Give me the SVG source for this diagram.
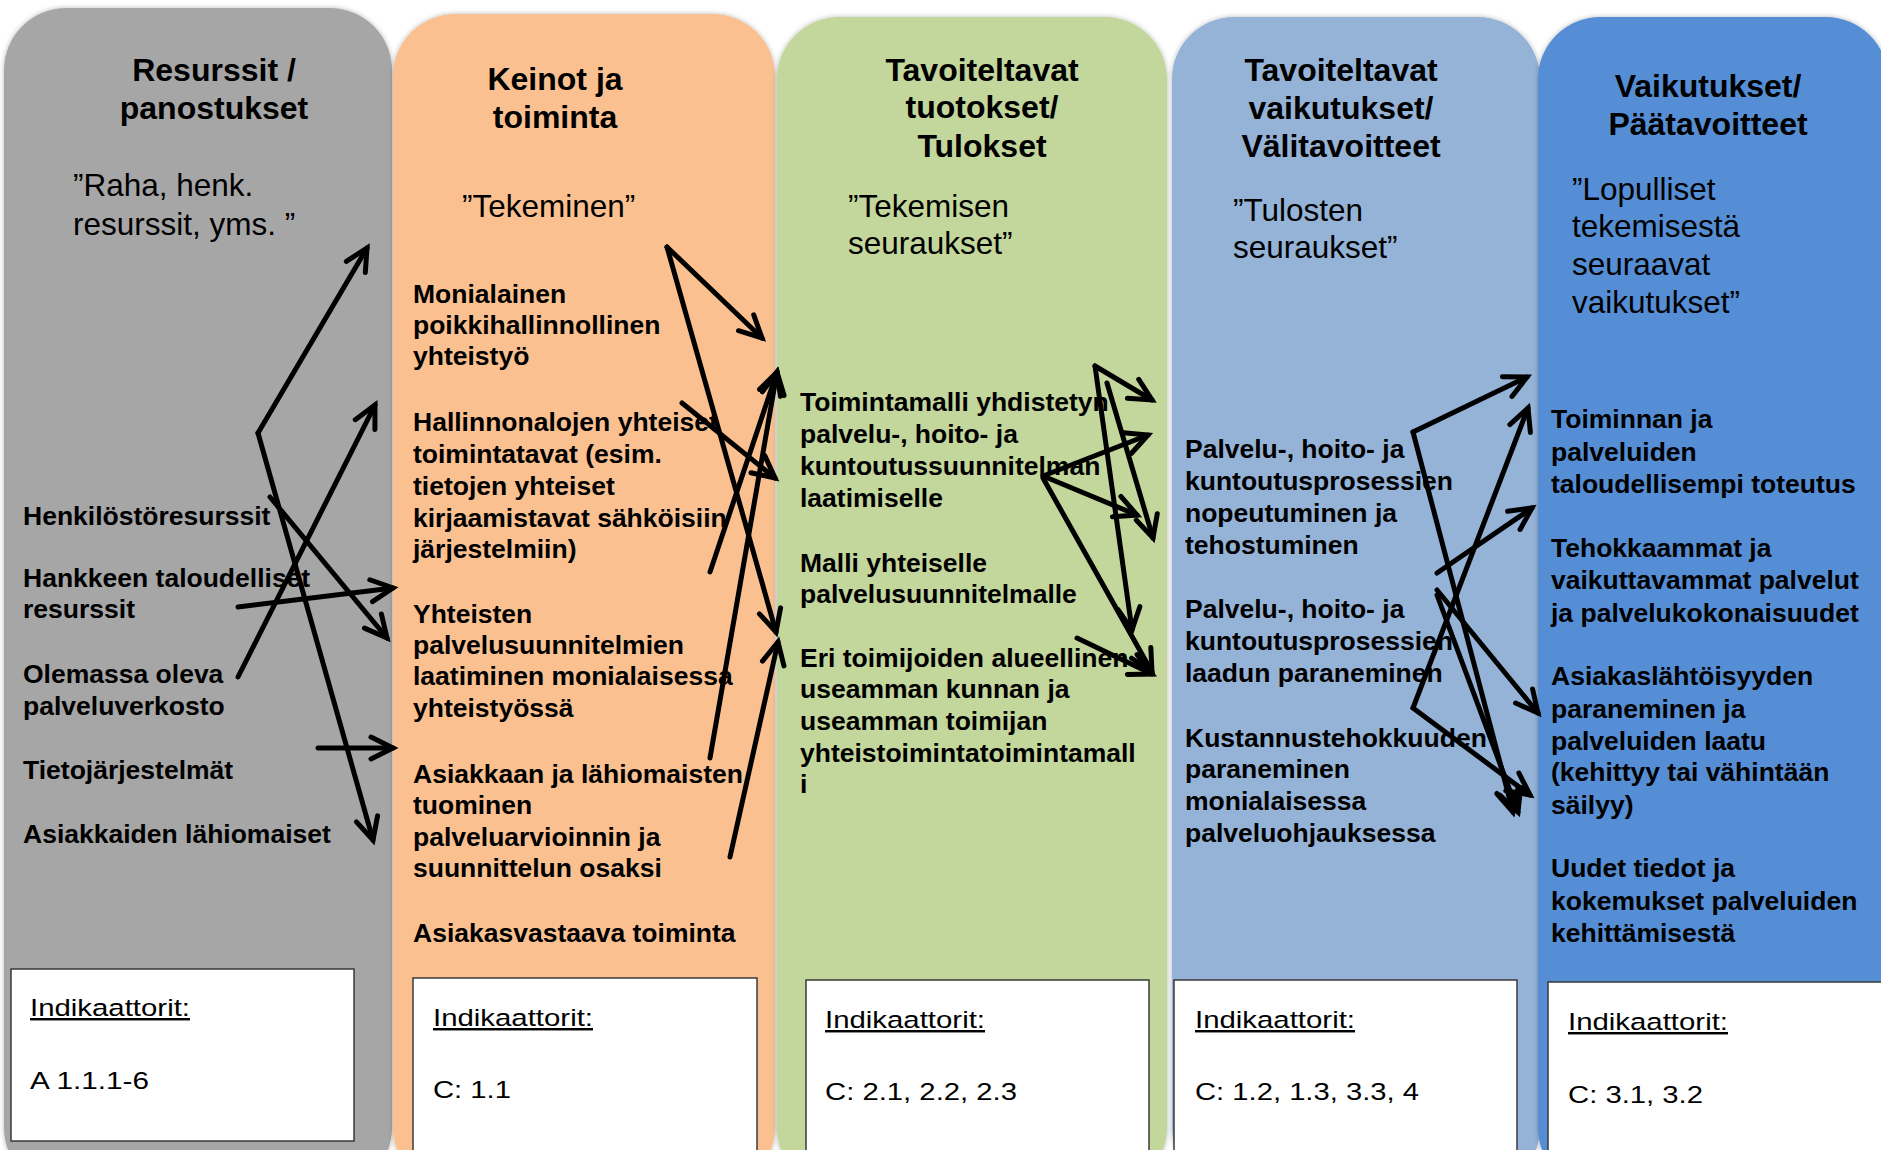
<svg xmlns="http://www.w3.org/2000/svg" width="1881" height="1150" viewBox="0 0 1881 1150">
<defs>
<filter id="sh" x="-5%" y="-5%" width="110%" height="110%">
<feDropShadow dx="0" dy="0" stdDeviation="2.5" flood-color="#000" flood-opacity="0.28"/>
</filter>
<marker id="arr" markerUnits="userSpaceOnUse" markerWidth="30" markerHeight="30" viewBox="-26 -15 30 30" refX="0" refY="0" orient="auto" overflow="visible">
<path d="M-22,-11 L0,0 L-22,11" fill="none" stroke="#000" stroke-width="5" stroke-linecap="round" stroke-linejoin="miter"/>
</marker>
</defs>
<style>
text{font-family:"Liberation Sans",Arial,sans-serif;fill:#000}
.col{filter:url(#sh)}
.title{font-size:32px;font-weight:bold;text-anchor:middle}
.sub{font-size:31.5px}
.item{font-size:26.5px;font-weight:bold}
.box{fill:#fff;stroke:#3a3a3a;stroke-width:1.5}
.ind{font-size:24.5px}
.conn path{fill:none;stroke:#000;stroke-width:5;stroke-linecap:round;marker-end:url(#arr)}
</style>
<rect width="1881" height="1150" fill="#fff"/>

<g id="col-resurssit">
<rect class="col" x="4" y="8" width="388" height="1182" rx="62" fill="#A6A6A6"/>
<text class="title"><tspan x="214" y="81">Resurssit /</tspan><tspan x="214" y="119">panostukset</tspan></text>
<text class="sub"><tspan x="73" y="196">”Raha, henk.</tspan><tspan x="73" y="235">resurssit, yms. ”</tspan></text>
<g id="r1"><text class="item" x="23" y="525">Henkilöstöresurssit</text></g>
<g id="r2"><text class="item"><tspan x="23" y="587">Hankkeen taloudelliset</tspan><tspan x="23" y="618">resurssit</tspan></text></g>
<g id="r3"><text class="item"><tspan x="23" y="683">Olemassa oleva</tspan><tspan x="23" y="715">palveluverkosto</tspan></text></g>
<g id="r4"><text class="item" x="23" y="779">Tietojärjestelmät</text></g>
<g id="r5"><text class="item" x="23" y="843">Asiakkaiden lähiomaiset</text></g>
<g id="ind-r"><rect class="box" x="11" y="969" width="343" height="172"/>
<text class="ind" x="30" y="1016" textLength="160" lengthAdjust="spacingAndGlyphs" text-decoration="underline">Indikaattorit:</text>
<text class="ind" x="30" y="1089" textLength="119" lengthAdjust="spacingAndGlyphs">A 1.1.1-6</text></g>
</g>

<g id="col-keinot">
<rect class="col" x="393" y="14" width="382" height="1176" rx="62" fill="#FAC090"/>
<text class="title"><tspan x="555" y="90">Keinot ja</tspan><tspan x="555" y="128">toiminta</tspan></text>
<text class="sub" x="462" y="217">”Tekeminen”</text>
<g id="k1"><text class="item"><tspan x="413" y="303">Monialainen</tspan><tspan x="413" y="334">poikkihallinnollinen</tspan><tspan x="413" y="365">yhteistyö</tspan></text></g>
<g id="k2"><text class="item"><tspan x="413" y="431">Hallinnonalojen yhteiset</tspan><tspan x="413" y="463">toimintatavat (esim.</tspan><tspan x="413" y="495">tietojen yhteiset</tspan><tspan x="413" y="527">kirjaamistavat sähköisiin</tspan><tspan x="413" y="558">järjestelmiin)</tspan></text></g>
<g id="k3"><text class="item"><tspan x="413" y="623">Yhteisten</tspan><tspan x="413" y="654">palvelusuunnitelmien</tspan><tspan x="413" y="685">laatiminen monialaisessa</tspan><tspan x="413" y="717">yhteistyössä</tspan></text></g>
<g id="k4"><text class="item"><tspan x="413" y="783">Asiakkaan ja lähiomaisten</tspan><tspan x="413" y="814">tuominen</tspan><tspan x="413" y="846">palveluarvioinnin ja</tspan><tspan x="413" y="877">suunnittelun osaksi</tspan></text></g>
<g id="k5"><text class="item" x="413" y="942">Asiakasvastaava toiminta</text></g>
<g id="ind-k"><rect class="box" x="413" y="978" width="344" height="190"/>
<text class="ind" x="433" y="1026" textLength="160" lengthAdjust="spacingAndGlyphs" text-decoration="underline">Indikaattorit:</text>
<text class="ind" x="433" y="1098" textLength="78" lengthAdjust="spacingAndGlyphs">C: 1.1</text></g>
</g>

<g id="col-tuotokset">
<rect class="col" x="777" y="17" width="390" height="1173" rx="62" fill="#C3D69B"/>
<text class="title"><tspan x="982" y="81">Tavoiteltavat</tspan><tspan x="982" y="118">tuotokset/</tspan><tspan x="982" y="157">Tulokset</tspan></text>
<text class="sub"><tspan x="848" y="217">”Tekemisen</tspan><tspan x="848" y="254">seuraukset”</tspan></text>
<g id="t1"><text class="item"><tspan x="800" y="411">Toimintamalli yhdistetyn</tspan><tspan x="800" y="443">palvelu-, hoito- ja</tspan><tspan x="800" y="475">kuntoutussuunnitelman</tspan><tspan x="800" y="507">laatimiselle</tspan></text></g>
<g id="t2"><text class="item"><tspan x="800" y="572">Malli yhteiselle</tspan><tspan x="800" y="603">palvelusuunnitelmalle</tspan></text></g>
<g id="t3"><text class="item"><tspan x="800" y="667">Eri toimijoiden alueellinen</tspan><tspan x="800" y="698">useamman kunnan ja</tspan><tspan x="800" y="730">useamman toimijan</tspan><tspan x="800" y="762">yhteistoimintatoimintamall</tspan><tspan x="800" y="793">i</tspan></text></g>
<g id="ind-t"><rect class="box" x="806" y="980" width="343" height="190"/>
<text class="ind" x="825" y="1028" textLength="160" lengthAdjust="spacingAndGlyphs" text-decoration="underline">Indikaattorit:</text>
<text class="ind" x="825" y="1100" textLength="192" lengthAdjust="spacingAndGlyphs">C: 2.1, 2.2, 2.3</text></g>
</g>

<g id="col-valitavoitteet">
<rect class="col" x="1172" y="17" width="368" height="1173" rx="62" fill="#95B3D7"/>
<text class="title"><tspan x="1341" y="81">Tavoiteltavat</tspan><tspan x="1341" y="119">vaikutukset/</tspan><tspan x="1341" y="157">Välitavoitteet</tspan></text>
<text class="sub"><tspan x="1233" y="221">”Tulosten</tspan><tspan x="1233" y="258">seuraukset”</tspan></text>
<g id="v1"><text class="item"><tspan x="1185" y="458">Palvelu-, hoito- ja</tspan><tspan x="1185" y="490">kuntoutusprosessien</tspan><tspan x="1185" y="522">nopeutuminen ja</tspan><tspan x="1185" y="554">tehostuminen</tspan></text></g>
<g id="v2"><text class="item"><tspan x="1185" y="618">Palvelu-, hoito- ja</tspan><tspan x="1185" y="650">kuntoutusprosessien</tspan><tspan x="1185" y="682">laadun paraneminen</tspan></text></g>
<g id="v3"><text class="item"><tspan x="1185" y="747">Kustannustehokkuuden</tspan><tspan x="1185" y="778">paraneminen</tspan><tspan x="1185" y="810">monialaisessa</tspan><tspan x="1185" y="842">palveluohjauksessa</tspan></text></g>
<g id="ind-v"><rect class="box" x="1174" y="980" width="343" height="190"/>
<text class="ind" x="1195" y="1028" textLength="160" lengthAdjust="spacingAndGlyphs" text-decoration="underline">Indikaattorit:</text>
<text class="ind" x="1195" y="1100" textLength="224" lengthAdjust="spacingAndGlyphs">C: 1.2, 1.3, 3.3, 4</text></g>
</g>

<g id="col-paatavoitteet">
<rect class="col" x="1538" y="17" width="350" height="1173" rx="62" fill="#558ED5"/>
<text class="title"><tspan x="1708" y="97">Vaikutukset/</tspan><tspan x="1708" y="135">Päätavoitteet</tspan></text>
<text class="sub"><tspan x="1572" y="200">”Lopulliset</tspan><tspan x="1572" y="237">tekemisestä</tspan><tspan x="1572" y="275">seuraavat</tspan><tspan x="1572" y="313">vaikutukset”</tspan></text>
<g id="p1"><text class="item"><tspan x="1551" y="428">Toiminnan ja</tspan><tspan x="1551" y="461">palveluiden</tspan><tspan x="1551" y="493">taloudellisempi toteutus</tspan></text></g>
<g id="p2"><text class="item"><tspan x="1551" y="557">Tehokkaammat ja</tspan><tspan x="1551" y="589">vaikuttavammat palvelut</tspan><tspan x="1551" y="622">ja palvelukokonaisuudet</tspan></text></g>
<g id="p3"><text class="item"><tspan x="1551" y="685">Asiakaslähtöisyyden</tspan><tspan x="1551" y="718">paraneminen ja</tspan><tspan x="1551" y="750">palveluiden laatu</tspan><tspan x="1551" y="781">(kehittyy tai vähintään</tspan><tspan x="1551" y="814">säilyy)</tspan></text></g>
<g id="p4"><text class="item"><tspan x="1551" y="877">Uudet tiedot ja</tspan><tspan x="1551" y="910">kokemukset palveluiden</tspan><tspan x="1551" y="942">kehittämisestä</tspan></text></g>
<g id="ind-p"><rect class="box" x="1548" y="982" width="345" height="190"/>
<text class="ind" x="1568" y="1030" textLength="160" lengthAdjust="spacingAndGlyphs" text-decoration="underline">Indikaattorit:</text>
<text class="ind" x="1568" y="1103" textLength="135" lengthAdjust="spacingAndGlyphs">C: 3.1, 3.2</text></g>
</g>

<g id="connectors" class="conn">
<path d="M258,433 L367,248"/>
<path d="M258,433 L373,840"/>
<path d="M270,497 L387,638"/>
<path d="M238,607 L393,588"/>
<path d="M238,677 L375,405"/>
<path d="M318,748 L393,748"/>

<path d="M667,247 L762,338"/>
<path d="M667,247 L776,632"/>
<path d="M682,403 L775,478"/>
<path d="M710,572 L777,372"/>
<path d="M710,758 L777,372"/>
<path d="M730,857 L778,642"/>

<path d="M1095,366 L1152,400"/>
<path d="M1095,366 L1132,630"/>
<path d="M1107,383 L1153,538"/>
<path d="M1043,476 L1148,435"/>
<path d="M1043,476 L1137,515"/>
<path d="M1043,478 L1152,672"/>
<path d="M1077,638 L1152,674"/>

<path d="M1413,432 L1527,377"/>
<path d="M1413,432 L1513,812"/>
<path d="M1413,708 L1528,408"/>
<path d="M1413,708 L1530,795"/>
<path d="M1437,573 L1532,508"/>
<path d="M1437,590 L1538,713"/>
<path d="M1437,595 L1518,812"/>
</g>
</svg>
